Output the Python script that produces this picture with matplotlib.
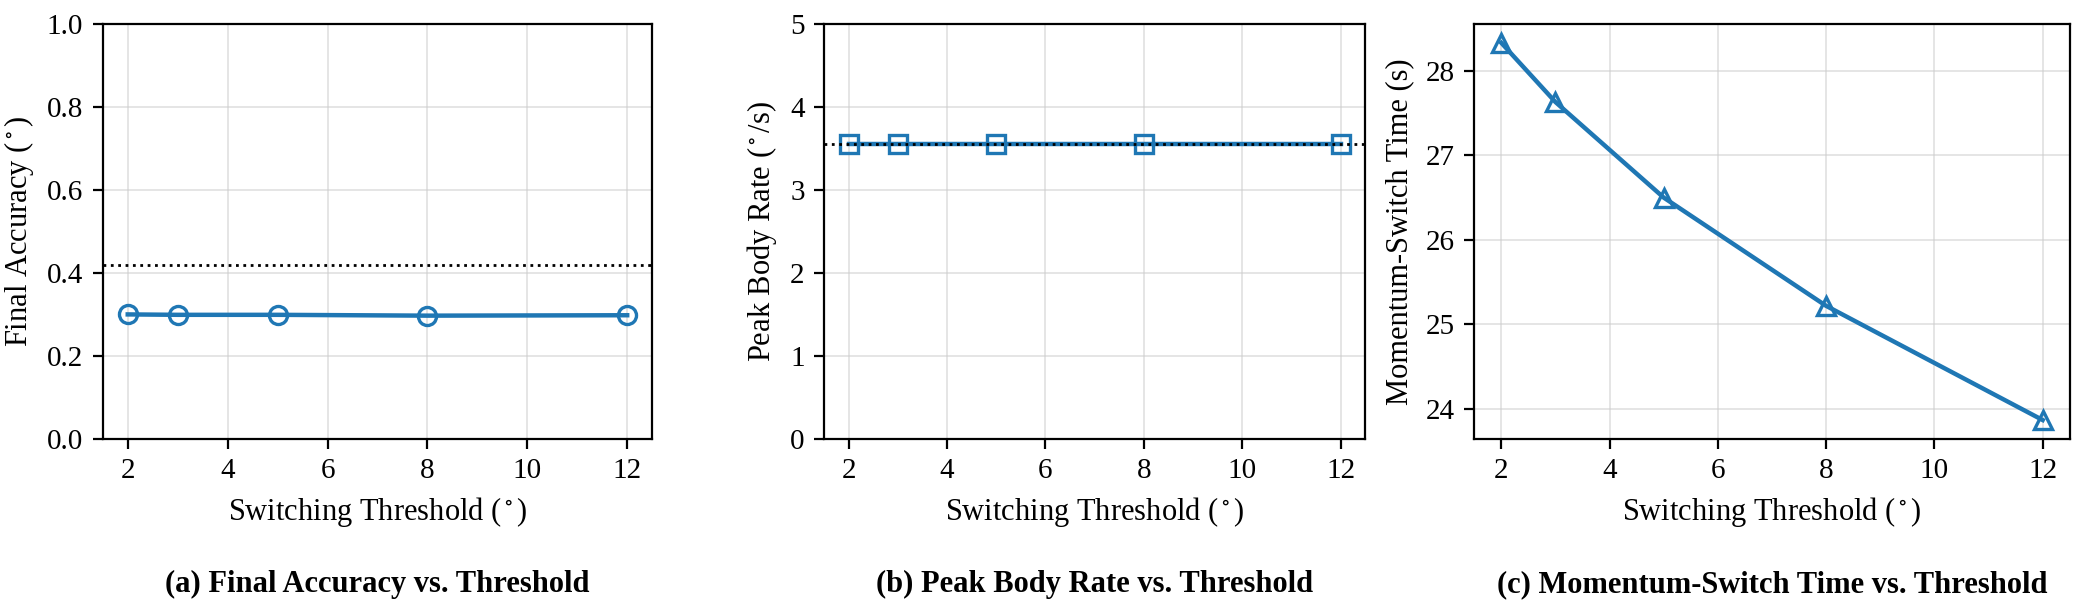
import matplotlib
matplotlib.use("Agg")
import matplotlib.pyplot as plt

plt.rcParams['font.family'] = ['Liberation Serif', 'DejaVu Serif']
plt.rcParams['mathtext.fontset'] = 'stix'
plt.rcParams['font.size'] = 10.5

thresholds = [2, 3, 5, 8, 12]
final_acc = [0.300, 0.299, 0.299, 0.297, 0.298]
acc_ref = 0.42
peak_rate = [3.55, 3.55, 3.55, 3.55, 3.55]
rate_ref = 3.55
switch_time = [28.33, 27.63, 26.50, 25.22, 23.87]

ylabels = [r'Final Accuracy ($^\circ$)', r'Peak Body Rate ($^\circ$/s)', 'Momentum-Switch Time (s)']
captions = ['(a) Final Accuracy vs. Threshold', '(b) Peak Body Rate vs. Threshold',
            '(c) Momentum-Switch Time vs. Threshold']
xlabel = r'Switching Threshold ($^\circ$)'

blue = '#1f77b4'

fig = plt.figure(figsize=(10.485, 3.065), dpi=200)
lefts = [0.049, 0.393, 0.703]
widths = [0.262, 0.258, 0.284]
axes = [fig.add_axes([l, 0.284, w, 0.677]) for l, w in zip(lefts, widths)]

ax = axes[0]
ax.plot(thresholds, final_acc, marker='o', color=blue, lw=1.6, ms=6.5, mfc='none', mew=1.2)
ax.axhline(acc_ref, color='black', ls=':', lw=1)
ax.set_ylim(0, 1.0)

ax = axes[1]
ax.plot(thresholds, peak_rate, marker='s', color=blue, lw=1.6, ms=6.5, mfc='none', mew=1.2)
ax.axhline(rate_ref, color='black', ls=':', lw=1)
ax.set_ylim(0, 5)

ax = axes[2]
ax.plot(thresholds, switch_time, marker='^', color=blue, lw=1.6, ms=6.5, mfc='none', mew=1.2)

for ax, yl, cap in zip(axes, ylabels, captions):
    ax.set_xlabel(xlabel, fontsize=11)
    ax.set_ylabel(yl, fontsize=11)
    ax.set_xticks([2, 4, 6, 8, 10, 12])
    ax.tick_params(labelsize=10.5)
    ax.grid(True, color='#cccccc', alpha=0.6, lw=0.6)
    ax.set_axisbelow(True)
    pos = ax.get_position()
    fig.text(pos.x0 + pos.width / 2, 0.046, cap, ha='center', va='center',
             fontsize=11, fontweight='bold')

fig.savefig('out.png', dpi=200)
